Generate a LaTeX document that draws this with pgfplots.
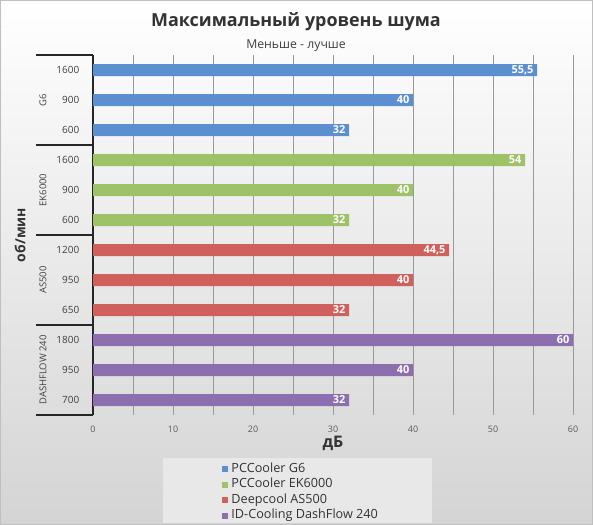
\documentclass[border=0pt]{standalone}
\usepackage{fontspec}
\setmainfont{Open Sans}
\usepackage{pgfplots}
\pgfplotsset{compat=1.18}
\definecolor{cBlue}{RGB}{91,143,207}
\definecolor{cGreen}{RGB}{157,194,104}
\definecolor{cRed}{RGB}{208,96,92}
\definecolor{cPurple}{RGB}{141,111,176}
\definecolor{bgBot}{RGB}{212,212,212}
\definecolor{legFill}{RGB}{232,232,232}
\begin{document}
\begin{tikzpicture}
\useasboundingbox (0bp,0bp) rectangle (593bp,525bp);
\shade[top color=white, bottom color=bgBot] (0bp,0bp) rectangle (593bp,525bp);
\draw[black!25] (0.5bp,0.5bp) rectangle (592.5bp,524.5bp);
\node[font=\bfseries\fontsize{18}{21}\selectfont, text=black!80] at (296bp,503bp) {Максимальный уровень шума};
\node[font=\fontsize{12.3}{15}\selectfont, text=black!75] at (296bp,479bp) {Меньше - лучше};
\fill[legFill] (163bp,2bp) rectangle (432bp,67bp);
\begin{axis}[
  at={(93bp,110bp)}, anchor=south west, scale only axis,
  width=480bp, height=360bp,
  xbar, bar width=12bp, bar shift=0pt,
  xmin=0, xmax=60, ymin=-0.5, ymax=11.5, y dir=reverse,
  /pgf/number format/assume math mode=true,
  xtick={0,10,...,60}, minor xtick={5,15,...,55},
  xmajorgrids, xminorgrids,
  major grid style={black!40, line width=0.6bp},
  minor grid style={black!40, line width=0.6bp},
  tick style={draw=none},
  separate axis lines,
  x axis line style={draw=none},
  y axis line style={draw=black!85, line width=1.3bp},
  axis y line*=left,
  xticklabel style={font=\fontsize{9}{10}\selectfont, text=black!65, yshift=-7bp},
  ytick={0,...,11},
  yticklabels={1600,900,600,1600,900,600,1200,950,650,1800,950,700},
  yticklabel style={font=\fontsize{10}{12}\selectfont, text=black!75, xshift=-6bp},
  point meta=explicit symbolic,
  nodes near coords,
  every node near coord/.append style={anchor=east, text=white, font=\bfseries\fontsize{11}{12}\selectfont},
  clip=false,
  legend image code/.code={\path[#1,draw=none] (0bp,-3bp) rectangle (6bp,3bp); \path (0bp,0bp) -- (8.5bp,0bp);},
  legend style={at={(axis description cs:0.262,-0.124)}, anchor=north west, draw=none, fill=none,
    font=\fontsize{12.7}{15}\selectfont, text=black!80, row sep=1bp,
    nodes={inner sep=1bp, text height=9.5bp, text depth=3bp}},
  legend cell align=left,
]
\addplot[fill=cBlue, draw=none] coordinates {(55.5,0) [55,5] (40,1) [40] (32,2) [32]};
\addplot[fill=cGreen, draw=none] coordinates {(54,3) [54] (40,4) [40] (32,5) [32]};
\addplot[fill=cRed, draw=none] coordinates {(44.5,6) [44,5] (40,7) [40] (32,8) [32]};
\addplot[fill=cPurple, draw=none] coordinates {(60,9) [60] (40,10) [40] (32,11) [32]};
\legend{PCCooler G6, PCCooler EK6000, Deepcool AS500, ID-Cooling DashFlow 240}
\draw[black!85, line width=1.6bp] ([xshift=-57bp]axis cs:0,-0.5) -- (axis cs:0,-0.5);
\draw[black!85, line width=1.6bp] ([xshift=-57bp]axis cs:0,2.5) -- (axis cs:0,2.5);
\draw[black!85, line width=1.6bp] ([xshift=-57bp]axis cs:0,5.5) -- (axis cs:0,5.5);
\draw[black!85, line width=1.6bp] ([xshift=-57bp]axis cs:0,8.5) -- (axis cs:0,8.5);
\draw[black!85, line width=1.6bp] ([xshift=-57bp]axis cs:0,11.5) -- (axis cs:0,11.5);
\node[rotate=90, font=\fontsize{9.5}{11}\selectfont, text=black!75] at ([xshift=-50bp]axis cs:0,1) {G6};
\node[rotate=90, font=\fontsize{9.5}{11}\selectfont, text=black!75] at ([xshift=-50bp]axis cs:0,4) {EK6000};
\node[rotate=90, font=\fontsize{9.5}{11}\selectfont, text=black!75] at ([xshift=-50bp]axis cs:0,7) {AS500};
\node[rotate=90, font=\fontsize{9.5}{11}\selectfont, text=black!75] at ([xshift=-50bp]axis cs:0,10) {DASHFLOW 240};
\node[rotate=90, font=\bfseries\fontsize{14}{16}\selectfont, text=black!80] at ([xshift=-73bp]axis cs:0,5.5) {об/мин};
\node[font=\bfseries\fontsize{16}{18}\selectfont, text=black!80] at ([yshift=-28bp]axis cs:30,11.5) {дБ};
\end{axis}
\end{tikzpicture}
\end{document}
